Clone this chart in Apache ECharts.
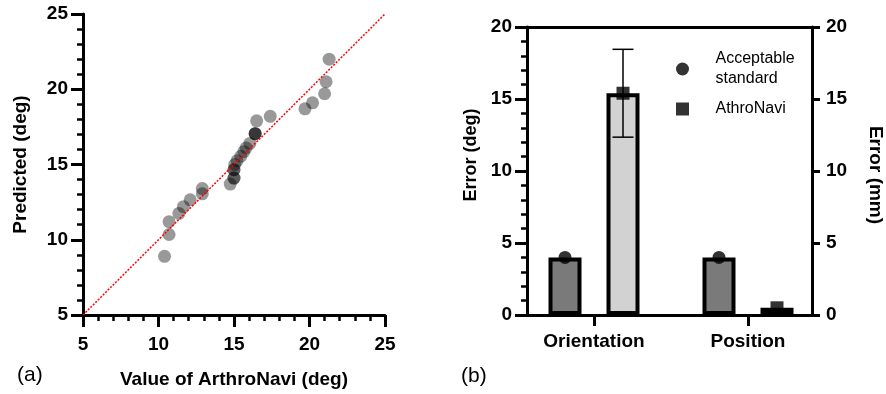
<!DOCTYPE html>
<html>
<head>
<meta charset="utf-8">
<script src="https://cdn.jsdelivr.net/npm/echarts@6/dist/echarts.min.js"></script>
<style>
html, body { margin: 0; padding: 0; background: #fff; }
#main { width: 886px; height: 394px; }
</style>
</head>
<body>
<div id="main"></div>
<script>
// (a) ArthroNavi value vs predicted value, deg
var arthroValue = [21.3, 21.1, 21.0, 20.2, 19.7, 17.4, 16.5, 16.4, 16.4, 16.4, 16.05, 15.8, 15.65, 15.45, 15.2, 15.05, 15.0, 15.0, 15.0, 15.0, 14.75, 12.9, 12.9, 12.1, 11.65, 11.35, 10.7, 10.7, 10.4];
var predicted   = [22.0, 20.5, 19.7, 19.1, 18.7, 18.2, 17.9, 17.05, 17.05, 17.05, 16.4, 16.1, 15.85, 15.55, 15.25, 15.0, 14.65, 14.65, 14.1, 14.1, 13.7, 13.4, 13.05, 12.65, 12.2, 11.75, 11.2, 10.35, 8.9];
var identityLine = [[5, 5], [25, 25]];

// (b) errors
var groups = ['Orientation', 'Position'];
var acceptable = [4, 4];
var athroMean = [15.4, 0.5];
var athroSD = [3.05, 0];

var FONT = "'Liberation Sans', Arial, Helvetica, sans-serif";
var BAR_W = 33, BAR_GAP = 25;
var shift = (BAR_W + BAR_GAP) / 2;

var scatterData = arthroValue.map(function(v, i) {
	return [v, predicted[i]];
});
var errData = groups.map(function(g, i) {
	return [i, athroMean[i], athroSD[i]];
});

var myChart = echarts.init(document.getElementById('main'));

var axisLine = { show: true, onZero: false, lineStyle: { color: '#000', width: 3 } };
var majorTick = { length: 12, lineStyle: { width: 3, color: '#000' } };
var minorTick = { show: true, splitNumber: 5, length: 6, lineStyle: { width: 2.5, color: '#000' } };
var tickBold = { fontFamily: FONT, fontWeight: 'bold', fontSize: 19, color: '#000' };
var nameBold = { fontFamily: FONT, fontWeight: 'bold', fontSize: 19, color: '#000' };

var option = {
	animation: false,
	title: [
		{ text: '(a)', left: 12, top: 360, textStyle: { fontFamily: FONT, fontWeight: 'normal', fontSize: 21, color: '#000' } },
		{ text: '(b)', left: 456, top: 361, textStyle: { fontFamily: FONT, fontWeight: 'normal', fontSize: 21, color: '#000' } }
	],
	legend: {
		orient: 'vertical',
		left: 676,
		top: 49,
		padding: 0,
		itemWidth: 56,
		itemHeight: 13,
		itemGap: 10,
		selectedMode: false,
		symbolKeepAspect: true,
		data: [
			{ name: 'Acceptable standard', icon: 'circle' },
			{ name: 'AthroNavi', icon: 'path://M0,0L10,0L10,10L0,10Z' }
		],
		formatter: function(name) {
			return name == 'Acceptable standard' ? 'Acceptable\nstandard' : name;
		},
		textStyle: { fontFamily: FONT, fontSize: 16, lineHeight: 20, color: '#000' }
	},
	grid: [
		{ left: 83, right: 501, top: 14, bottom: 78 },   // (a)
		{ left: 517, right: 61, top: 27, bottom: 79 },   // (b) bars
		{ left: 527, right: 71, top: 27, bottom: 79 }    // (b) frame
	],
	xAxis: [
		{
			gridIndex: 0, type: 'value', min: 5, max: 25, interval: 5,
			name: 'Value of ArthroNavi (deg)', nameLocation: 'middle', nameGap: 55,
			nameTextStyle: nameBold,
			axisLine: axisLine, axisTick: majorTick, minorTick: minorTick,
			splitLine: { show: false },
			axisLabel: Object.assign({ margin: 20 }, tickBold)
		},
		{
			gridIndex: 1, type: 'category', data: groups,
			axisLine: { show: false },
			axisTick: { show: true, alignWithLabel: true, length: 11, lineStyle: { width: 3, color: '#000' } },
			axisLabel: Object.assign({ margin: 17 }, tickBold)
		},
		{
			gridIndex: 2, type: 'value', min: 0, max: 1, position: 'bottom',
			axisLine: axisLine, axisTick: { show: false }, axisLabel: { show: false }, splitLine: { show: false }
		},
		{
			gridIndex: 2, type: 'value', min: 0, max: 1, position: 'top',
			axisLine: axisLine, axisTick: { show: false }, axisLabel: { show: false }, splitLine: { show: false }
		}
	],
	yAxis: [
		{
			gridIndex: 0, type: 'value', min: 5, max: 25, interval: 5,
			name: 'Predicted (deg)', nameLocation: 'middle', nameGap: 53,
			nameTextStyle: nameBold,
			axisLine: axisLine, axisTick: majorTick, minorTick: minorTick,
			splitLine: { show: false },
			axisLabel: Object.assign({ margin: 15 }, tickBold)
		},
		{
			gridIndex: 1, type: 'value', min: 0, max: 20, interval: 5, show: false
		},
		{
			gridIndex: 2, type: 'value', min: 0, max: 20, interval: 5, position: 'left',
			name: 'Error (deg)', nameLocation: 'middle', nameGap: 47,
			nameTextStyle: Object.assign({ padding: [0, 0, 0, 32] }, nameBold, { fontSize: 18 }),
			axisLine: axisLine, axisTick: majorTick, minorTick: minorTick,
			splitLine: { show: false },
			axisLabel: Object.assign({ margin: 15 }, tickBold)
		},
		{
			gridIndex: 2, type: 'value', min: 0, max: 20, interval: 5, position: 'right',
			name: 'Error (mm)', nameLocation: 'middle', nameGap: 54, nameRotate: -90,
			nameTextStyle: Object.assign({ padding: [0, 0, 0, 8] }, nameBold),
			axisLine: axisLine,
			axisTick: { length: 8, lineStyle: { width: 3, color: '#000' } },
			splitLine: { show: false },
			axisLabel: Object.assign({ margin: 14 }, tickBold)
		}
	],
	series: [
		{
			name: 'points', type: 'scatter', xAxisIndex: 0, yAxisIndex: 0,
			symbolSize: 13, data: scatterData,
			itemStyle: { color: 'rgba(0,0,0,0.5)' }
		},
		{
			name: 'identity', type: 'line', xAxisIndex: 0, yAxisIndex: 0, z: 5,
			data: identityLine, symbol: 'none',
			lineStyle: { color: '#ff0000', width: 1.5, type: [2, 1.5] }
		},
		{
			name: 'acceptable bar', type: 'bar', xAxisIndex: 1, yAxisIndex: 1,
			data: acceptable, barWidth: BAR_W, barGap: (BAR_GAP / BAR_W * 100) + '%',
			itemStyle: { color: '#7a7a7a', borderColor: '#000', borderWidth: 4 }
		},
		{
			name: 'athro bar', type: 'bar', xAxisIndex: 1, yAxisIndex: 1,
			data: athroMean, barWidth: BAR_W,
			itemStyle: { color: '#d2d2d2', borderColor: '#000', borderWidth: 4 }
		},
		{
			name: 'sd', type: 'custom', xAxisIndex: 1, yAxisIndex: 1, z: 3,
			data: errData,
			renderItem: function(params, api) {
				var sd = api.value(2);
				if (!sd) return;
				var hi = api.coord([api.value(0), api.value(1) + sd]);
				var lo = api.coord([api.value(0), api.value(1) - sd]);
				var x = hi[0] + shift;
				var st = { stroke: '#000', lineWidth: 1.5 };
				return {
					type: 'group',
					children: [
						{ type: 'line', shape: { x1: x, y1: hi[1], x2: x, y2: lo[1] }, style: st },
						{ type: 'line', shape: { x1: x - 10.5, y1: hi[1], x2: x + 10.5, y2: hi[1] }, style: st },
						{ type: 'line', shape: { x1: x - 10.5, y1: lo[1], x2: x + 10.5, y2: lo[1] }, style: st }
					]
				};
			}
		},
		{
			name: 'Acceptable standard', type: 'scatter', xAxisIndex: 1, yAxisIndex: 1, z: 4,
			data: acceptable, symbol: 'circle', symbolSize: 13, symbolOffset: [-shift, 0],
			itemStyle: { color: '#000' }
		},
		{
			name: 'AthroNavi', type: 'scatter', xAxisIndex: 1, yAxisIndex: 1, z: 4,
			data: athroMean, symbol: 'rect', symbolSize: 13, symbolOffset: [shift, 0],
			itemStyle: { color: '#000' }
		}
	]
};

myChart.setOption(option);
</script>
</body>
</html>
